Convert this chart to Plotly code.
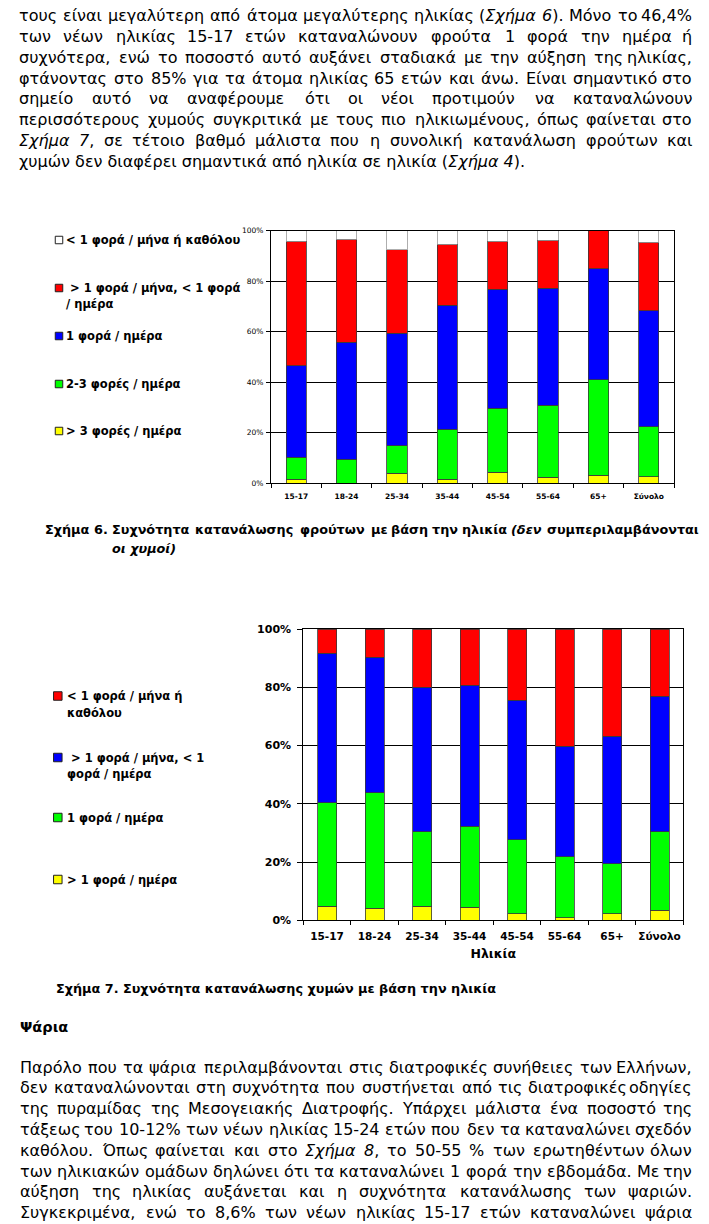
import re
import plotly.graph_objects as go

W, H = 709, 1224
FONT = "DejaVu Sans"

# ---------------- data ----------------
categories = ["15-17", "18-24", "25-34", "35-44", "45-54", "55-64", "65+", "Σύνολο"]
pct_ticks = [0, 20, 40, 60, 80, 100]
pct_labels = ["0%", "20%", "40%", "60%", "80%", "100%"]

# Figure 6: fruit consumption frequency (% per age group), bottom -> top
fruit_over3_day = [1.6, 0.0, 4.0, 1.7, 4.4, 2.4, 3.2, 2.5]
fruit_2to3_day = [8.7, 9.6, 10.9, 19.7, 25.3, 28.5, 37.8, 19.8]
fruit_1_day = [36.3, 46.2, 44.5, 49.0, 47.2, 46.3, 44.0, 46.0]
fruit_month_day = [49.2, 40.8, 33.1, 24.3, 18.9, 19.1, 15.0, 27.2]
fruit_rare = [4.2, 3.4, 7.5, 5.3, 4.2, 3.7, 0.0, 4.5]

# Figure 7: juice consumption frequency (% per age group), bottom -> top
juice_over1_day = [4.8, 4.1, 4.8, 4.5, 2.2, 0.9, 2.2, 3.4]
juice_1_day = [35.6, 39.7, 25.6, 27.8, 25.4, 21.0, 17.3, 27.0]
juice_month_day = [51.2, 46.5, 49.6, 48.4, 47.9, 37.9, 43.7, 46.6]
juice_rare = [8.4, 9.7, 20.0, 19.3, 24.5, 40.2, 36.8, 23.0]

fruit_legend = [
    ["< 1 φορά / μήνα ή καθόλου"],
    ["\u00a0> 1 φορά / μήνα, < 1 φορά", "/ ημέρα"],
    ["1 φορά / ημέρα"],
    ["2-3 φορές / ημέρα"],
    ["> 3 φορές / ημέρα"],
]
juice_legend = [
    ["< 1 φορά / μήνα ή", "καθόλου"],
    ["\u00a0> 1 φορά / μήνα, < 1", "φορά / ημέρα"],
    ["1 φορά / ημέρα"],
    ["> 1 φορά / ημέρα"],
]

para_top = [
    "τους είναι μεγαλύτερη από άτομα μεγαλύτερης ηλικίας (<i>Σχήμα</i> <i>6</i>). Μόνο το 46,4%",
    "των νέων ηλικίας 15-17 ετών καταναλώνουν φρούτα 1 φορά την ημέρα ή",
    "συχνότερα, ενώ το ποσοστό αυτό αυξάνει σταδιακά με την αύξηση της ηλικίας,",
    "φτάνοντας στο  85% για τα άτομα ηλικίας 65 ετών και άνω. Είναι σημαντικό στο",
    "σημείο αυτό να αναφέρουμε ότι οι νέοι προτιμούν να καταναλώνουν",
    "περισσότερους χυμούς συγκριτικά με τους πιο ηλικιωμένους, όπως φαίνεται στο",
    "<i>Σχήμα</i> <i>7</i>, σε τέτοιο βαθμό μάλιστα που η συνολική κατανάλωση φρούτων και",
    "χυμών δεν διαφέρει σημαντικά από ηλικία σε ηλικία (<i>Σχήμα</i> <i>4</i>).",
]
para_bottom = [
    "Παρόλο που τα ψάρια περιλαμβάνονται στις διατροφικές συνήθειες των Ελλήνων,",
    "δεν καταναλώνονται στη συχνότητα που συστήνεται από τις διατροφικές οδηγίες",
    "της πυραμίδας της Μεσογειακής Διατροφής. Υπάρχει μάλιστα ένα ποσοστό της",
    "τάξεως του 10-12% των νέων ηλικίας 15-24 ετών που δεν τα καταναλώνει σχεδόν",
    "καθόλου. Όπως φαίνεται και στο  <i>Σχήμα</i> <i>8</i>, το 50-55 % των ερωτηθέντων όλων",
    "των ηλικιακών ομάδων δηλώνει ότι τα καταναλώνει 1 φορά την εβδομάδα. Με την",
    "αύξηση της ηλικίας αυξάνεται και η συχνότητα κατανάλωσης των ψαριών.",
    "Συγκεκριμένα, ενώ το 8,6% των νέων ηλικίας  15-17 ετών καταναλώνει ψάρια",
]
caption6 = ["Σχήμα 6. Συχνότητα κατανάλωσης φρούτων με βάση την ηλικία <i>(δεν συμπεριλαμβάνονται</i>",
            "<i>οι χυμοί)</i>"]
caption7 = "Σχήμα 7. Συχνότητα κατανάλωσης χυμών με βάση την ηλικία"
heading = "Ψάρια"


# ---------------- helpers ----------------
def px(x):
    return x / W


def py(y):
    return 1 - y / H


EM = {" ": .318, ",": .318, ".": .318, "(": .390, ")": .390, "%": .950, "-": .361,
      "α": .659, "ά": .659, "β": .638, "γ": .592, "δ": .612, "ε": .541, "έ": .541,
      "ζ": .544, "η": .634, "ή": .634, "θ": .612, "ι": .338, "ί": .338, "κ": .589,
      "λ": .592, "μ": .636, "ν": .592, "ξ": .544, "ο": .612, "ό": .612, "π": .652,
      "ρ": .635, "σ": .643, "ς": .533, "τ": .589, "υ": .615, "ύ": .615, "φ": .723,
      "χ": .583, "ψ": .757, "ω": .815, "ώ": .815, "Σ": .632, "Μ": .863, "Ε": .632,
      "Π": .752, "Υ": .611, "Δ": .684, "Ό": .80, "Χ": .685, "Ψ": .82}


def est(word, size, bold=False):
    plain = re.sub(r"<[^>]+>", "", word)
    w = 0.0
    for ch in plain:
        w += .636 if ch.isdigit() else EM.get(ch, .6)
    return w * size * (1.14 if bold else 1.0)


def add_text(fig, x, y, text, size, bold=False, anchor="left"):
    fig.add_annotation(xref="paper", yref="paper", x=px(x), y=py(y), text=text,
                       showarrow=False, xanchor=anchor, yanchor="middle", borderpad=0,
                       font=dict(family=FONT, size=size, color="black",
                                 weight="bold" if bold else "normal"))


def text_line(fig, line, y, left, right, size, bold=False, justify=True):
    words = line.split()
    if not justify or len(words) < 2:
        add_text(fig, left, y, " ".join(words), size, bold)
        return
    ws = [est(w, size, bold) for w in words]
    gap = (right - left - sum(ws)) / (len(words) - 1)
    x = left
    for i, w in enumerate(words):
        if i == len(words) - 1:
            add_text(fig, right, y, w, size, bold, anchor="right")
        else:
            add_text(fig, x, y, w, size, bold)
        x += ws[i] + gap


# ---------------- figure ----------------
fig = go.Figure()

WHITE, RED, BLUE, GREEN, YELLOW = "#FFFFFF", "#FF0000", "#0000FF", "#00FF00", "#FFFF00"
EDGE, EDGE_W = "#3a3a3a", "#9a9a9a"

fruit_series = [
    (fruit_legend[4][0], fruit_over3_day, YELLOW, EDGE),
    (fruit_legend[3][0], fruit_2to3_day, GREEN, EDGE),
    (fruit_legend[2][0], fruit_1_day, BLUE, EDGE),
    (" ".join(fruit_legend[1]), fruit_month_day, RED, EDGE),
    (fruit_legend[0][0], fruit_rare, WHITE, EDGE_W),
]
juice_series = [
    (juice_legend[3][0], juice_over1_day, YELLOW, EDGE),
    (juice_legend[2][0], juice_1_day, GREEN, EDGE),
    (" ".join(juice_legend[1]), juice_month_day, BLUE, EDGE),
    (" ".join(juice_legend[0]), juice_rare, RED, EDGE),
]

for name, vals, col, lc in fruit_series:
    fig.add_trace(go.Bar(x=categories, y=vals, name=name, xaxis="x", yaxis="y",
                         marker=dict(color=col, line=dict(color=lc, width=0.8)),
                         showlegend=False))
for name, vals, col, lc in juice_series:
    fig.add_trace(go.Bar(x=categories, y=vals, name=name, xaxis="x2", yaxis="y2",
                         marker=dict(color=col, line=dict(color=lc, width=0.8)),
                         showlegend=False))

axis_common = dict(showline=True, linecolor="black", linewidth=1, mirror=True,
                   ticks="outside", tickcolor="black", tickwidth=1, fixedrange=True,
                   automargin=False)

fig.update_layout(
    width=W, height=H, margin=dict(l=0, r=0, t=0, b=0, autoexpand=False),
    paper_bgcolor="white", plot_bgcolor="white",
    barmode="stack", bargap=0.6, showlegend=False,
    font=dict(family=FONT, color="black"),
    xaxis=dict(domain=[px(271), px(674)], anchor="y", type="category",
               tickson="boundaries", ticklen=4, showgrid=False, ticklabelstandoff=6,
               tickangle=0,
               tickfont=dict(family=FONT, size=7.5, weight="bold", color="black"),
               **axis_common),
    yaxis=dict(domain=[py(483.3), py(230.7)], anchor="x", range=[0, 100],
               tickvals=pct_ticks, ticktext=pct_labels, ticklen=4, showgrid=True,
               gridcolor="black", gridwidth=1, zeroline=False, ticklabelstandoff=1,
               tickfont=dict(family=FONT, size=7.5, color="black"),
               **axis_common),
    xaxis2=dict(domain=[px(303.3), px(683.3)], anchor="y2", type="category",
                tickson="boundaries", ticklen=4, showgrid=False, ticklabelstandoff=6,
                tickangle=0,
                tickfont=dict(family=FONT, size=10.5, weight="bold", color="black"),
                title=dict(text="Ηλικία", standoff=8,
                           font=dict(family=FONT, size=12.5, weight="bold", color="black")),
                **axis_common),
    yaxis2=dict(domain=[py(920.3), py(629)], anchor="x2", range=[0, 100],
                tickvals=pct_ticks, ticktext=pct_labels, ticklen=5, showgrid=True,
                gridcolor="black", gridwidth=1, zeroline=False, ticklabelstandoff=4,
                tickfont=dict(family=FONT, size=11, weight="bold", color="black"),
                **axis_common),
)


# ---------------- hand-placed legends ----------------
def draw_legend(items, colors, ys, sq_x, sq, text_x, line_gap, size):
    for lines, col, y in zip(items, colors, ys):
        fig.add_shape(type="rect", xref="paper", yref="paper",
                      x0=px(sq_x - sq / 2), x1=px(sq_x + sq / 2),
                      y0=py(y + sq / 2), y1=py(y - sq / 2),
                      fillcolor=col, line=dict(color="#202020", width=1))
        for k, ln in enumerate(lines):
            add_text(fig, text_x, y + k * line_gap, ln, size, bold=True)


draw_legend(fruit_legend, [WHITE, RED, BLUE, GREEN, YELLOW],
            [240, 288, 336, 384, 431], 59, 7.5, 65, 15.5, 11.5)
draw_legend(juice_legend, [RED, BLUE, GREEN, YELLOW],
            [696, 757.5, 817.5, 879.5], 57.8, 8.5, 66, 16.5, 11.5)

# ---------------- page text ----------------
BODY = 16
LEFT, RIGHT = 18, 693
for i, line in enumerate(para_top):
    text_line(fig, line, 15.5 + 20.85 * i, LEFT, RIGHT, BODY, justify=(i < len(para_top) - 1))

text_line(fig, caption6[0], 529, 44, 700, 12.8, bold=True)
add_text(fig, 111, 548, caption6[1], 12.8, bold=True)
add_text(fig, 55, 988, caption7, 12.8, bold=True)
add_text(fig, 19, 1027, heading, 14.5, bold=True)

for i, line in enumerate(para_bottom):
    text_line(fig, line, 1067 + 20.8 * i, LEFT + 1, RIGHT, BODY)

# remove the browser's default 8px page margin so the 709x1224 figure fills the window
fig.write_html("out.html",
               config={"displayModeBar": False, "staticPlot": True},
               post_script="document.body.style.margin='0px';document.body.style.overflow='hidden';")
